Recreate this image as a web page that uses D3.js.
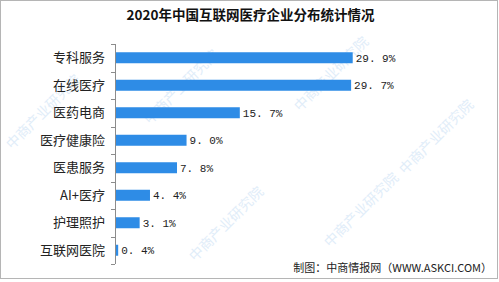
<!DOCTYPE html>
<html>
<head>
<meta charset="utf-8">
<script src="https://cdn.jsdelivr.net/npm/d3@7"></script>
<style>
  html, body { margin: 0; padding: 0; background: #fff; }
  svg { display: block; }
</style>
</head>
<body>
<div id="chart"></div>
<script>
var categories = ['专科服务', '在线医疗', '医药电商', '医疗健康险', '医患服务', 'AI+医疗', '护理照护', '互联网医院'];
var values = [29.9, 29.7, 15.7, 9.0, 7.8, 4.4, 3.1, 0.4];
var valueLabels = ['29.9%', '29.7%', '15.7%', '9.0%', '7.8%', '4.4%', '3.1%', '0.4%'];

var W = 499, H = 282;
var m = { left: 115, top: 44, bottom: 264 };

var svg = d3.select('#chart').append('svg')
  .attr('width', W)
  .attr('height', H);

// frame
svg.append('rect')
  .attr('x', 0.5).attr('y', 0.5)
  .attr('width', W - 2).attr('height', H - 4)
  .attr('fill', '#fff')
  .attr('stroke', '#b5b5b5');

// faint watermarks, kept inside the frame
var marks = [[12, 150], [150, 125], [300, 112], [405, 175], [195, 262], [330, 248]];
svg.selectAll('.wm').data(marks).enter().append('text')
  .attr('class', 'wm')
  .attr('transform', function(d) { return 'translate(' + d[0] + ',' + d[1] + ') rotate(-45)'; })
  .attr('font-family', 'Noto Sans CJK SC')
  .attr('font-size', 14)
  .attr('fill', '#e1edf9')
  .text('中商产业研究院');

svg.append('text')
  .attr('x', W / 2 + 1).attr('y', 20)
  .attr('text-anchor', 'middle')
  .attr('font-family', 'Noto Sans CJK SC')
  .attr('font-weight', 'bold')
  .attr('font-size', 13.5)
  .attr('fill', '#111')
  .text('2020年中国互联网医疗企业分布统计情况');

var x = d3.scaleLinear().domain([0, 29.9]).range([m.left, 352.7]);
var yb = d3.scaleBand().domain(categories).range([m.top, m.bottom]);

// axis with ticks on band edges
svg.append('line')
  .attr('x1', m.left + 0.5).attr('x2', m.left + 0.5)
  .attr('y1', m.top).attr('y2', m.bottom)
  .attr('stroke', '#8c8c8c');
var edges = categories.map(function(c) { return yb(c); }).concat([m.bottom]);
svg.selectAll('.tk').data(edges).enter().append('line')
  .attr('x1', m.left - 4).attr('x2', m.left)
  .attr('y1', function(d) { return Math.round(d) + 0.5; })
  .attr('y2', function(d) { return Math.round(d) + 0.5; })
  .attr('stroke', '#8c8c8c');

svg.selectAll('.bar').data(values).enter().append('rect')
  .attr('x', m.left + 1)
  .attr('y', function(d, i) { return yb(categories[i]) + yb.bandwidth() / 2 - 5.5; })
  .attr('width', function(d) { return x(d) - m.left - 1; })
  .attr('height', 11)
  .attr('fill', '#2e8ce6');

svg.selectAll('.cat').data(categories).enter().append('text')
  .attr('x', 105)
  .attr('y', function(d) { return yb(d) + yb.bandwidth() / 2 + 4.5; })
  .attr('text-anchor', 'end')
  .attr('font-family', 'Noto Sans CJK SC')
  .attr('font-size', 13)
  .attr('fill', '#222')
  .text(function(d) { return d; });

svg.selectAll('.val').data(values).enter().append('text')
  .attr('x', function(d) { return x(d) + 3; })
  .attr('y', function(d, i) { return yb(categories[i]) + yb.bandwidth() / 2 + 4; })
  .attr('font-family', 'Liberation Mono')
  .attr('font-size', 11)
  .attr('fill', '#222')
  .text(function(d, i) { return valueLabels[i].replace('.', '. '); });

svg.append('text')
  .attr('x', 492).attr('y', 272)
  .attr('text-anchor', 'end')
  .attr('font-family', 'Noto Sans CJK SC')
  .attr('font-size', 11)
  .attr('fill', '#222')
  .text('制图：中商情报网（WWW.ASKCI.COM）');
</script>
</body>
</html>
